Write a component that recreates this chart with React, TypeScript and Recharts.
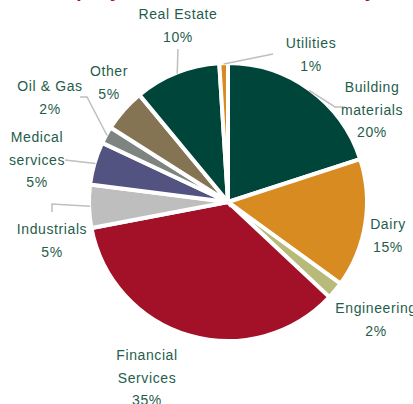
import { PieChart, Pie, Cell } from 'recharts';

// sector names ("\n" marks a line break in the label)
const sectors = [
  'Building\nmaterials',
  'Dairy',
  'Engineering',
  'Financial\nServices',
  'Industrials',
  'Medical\nservices',
  'Oil & Gas',
  'Other',
  'Real Estate',
  'Utilities',
];

const shares = [20, 15, 2, 35, 5, 5, 2, 5, 10, 1];

const colors = [
  '#004539',
  '#d78b20',
  '#b8ba7a',
  '#a21128',
  '#bebebe',
  '#525380',
  '#7e8480',
  '#857453',
  '#004539',
  '#d78b20',
];

// label placement relative to the pie centre, plus leader-line bend points
const labelLayout: { dx: number; dy: number; leader?: [number, number][] }[] = [
  { dx: 144, dy: -110, leader: [[107, -95], [117, -95]] },
  { dx: 160, dy: 27 },
  { dx: 148, dy: 111 },
  { dx: -81, dy: 158 },
  { dx: -176, dy: 32, leader: [[-176, 2], [-176, 10]] },
  { dx: -191, dy: -60, leader: [[-163, -42]] },
  { dx: -178, dy: -111, leader: [[-141, -105], [-148, -105]] },
  { dx: -119, dy: -126 },
  { dx: -50, dy: -183, leader: [[-50, -153]] },
  { dx: 83, dy: -154, leader: [[45, -148]] },
];

const data = sectors.map((name, i) => ({ name, value: shares[i] }));

const RADIAN = Math.PI / 180;
const LINE_H = 22.5;

const renderLabel = (props: any) => {
  const { cx, cy, midAngle, outerRadius, index } = props;
  const layout = labelLayout[index];
  const ex = cx + (outerRadius - 1) * Math.cos(-midAngle * RADIAN);
  const ey = cy + (outerRadius - 1) * Math.sin(-midAngle * RADIAN);
  const lines = [...sectors[index].split('\n'), `${shares[index]}%`];
  const x = cx + layout.dx;
  const y = cy + layout.dy;
  return (
    <g key={`lbl-${index}`}>
      {layout.leader && (
        <polyline
          points={[[ex, ey], ...layout.leader.map(([px, py]) => [cx + px, cy + py])]
            .map((p) => p.join(','))
            .join(' ')}
          fill="none"
          stroke="#bfbfbf"
          strokeWidth={1.5}
        />
      )}
      <text
        x={x}
        y={y}
        textAnchor="middle"
        fill="#1f5d4c"
        fontSize={14}
        letterSpacing={0.6}
        fontFamily="'Liberation Sans', Arial, sans-serif"
      >
        {lines.map((line, i) => (
          <tspan key={i} x={x} y={y + i * LINE_H}>
            {line}
          </tspan>
        ))}
      </text>
    </g>
  );
};

export default function App() {
  return (
    <div style={{ position: 'absolute', left: 0, top: 0, width: 413, height: 404, background: '#fff' }}>
      <PieChart width={413} height={404} margin={{ top: 0, right: 0, bottom: 0, left: 0 }}>
        {/* title sits above the frame, only its descenders show */}
        <text
          x={34}
          y={-3}
          fill="#a21128"
          fontSize={19}
          fontWeight="bold"
          fontFamily="'Liberation Sans', Arial, sans-serif"
        >
          Company Investment Across Industry
        </text>
        <Pie
          data={data}
          dataKey="value"
          nameKey="name"
          cx={228}
          cy={202}
          outerRadius={139}
          startAngle={90}
          endAngle={-270}
          stroke="#fff"
          strokeWidth={4}
          label={renderLabel}
          labelLine={false}
          isAnimationActive={false}
        >
          {data.map((d, i) => (
            <Cell key={d.name} fill={colors[i]} />
          ))}
        </Pie>
      </PieChart>
    </div>
  );
}
